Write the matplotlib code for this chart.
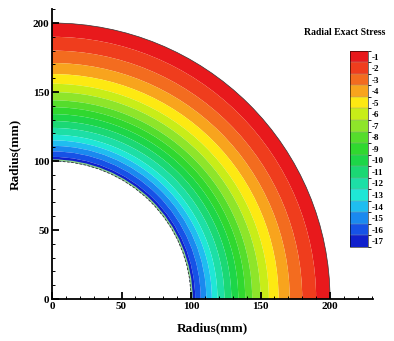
import matplotlib.pyplot as plt
from matplotlib.colors import BoundaryNorm, ListedColormap
from matplotlib.cm import ScalarMappable
from matplotlib.patches import Wedge, Arc
from matplotlib.ticker import MultipleLocator

# contour levels (MPa), outer ring first
LEVELS = [-1, -2, -3, -4, -5, -6, -7, -8, -9, -10, -11, -12, -13, -14, -15, -16, -17]
BAND_COLORS = [
    "#e8191c", "#ef3d1d", "#f36c1f", "#f8a41d", "#fde912", "#c8ed18",
    "#8ee52a", "#55dd2c", "#30d82f", "#1dd648", "#1bd874", "#1ddfa6",
    "#1fe7d6", "#1fbdf0", "#1a89ef", "#1652e6", "#1020cc",
]
# ring radii (mm), outer edge of each band followed by the inner hole radius
BAND_EDGES = [200, 190, 180, 171, 163, 156, 150, 144, 139, 134, 129, 124,
              119, 115, 111, 107, 103, 100]
INNER_R = 100
OUTER_R = 200

plt.rcParams.update({
    "font.family": "Liberation Serif",
    "font.weight": "bold",
    "axes.labelweight": "bold",
})

fig = plt.figure(figsize=(3.94, 3.41), dpi=100)
ax = fig.add_axes([0.132, 0.123, 0.815, 0.850])

for color, r_out, r_in in zip(BAND_COLORS, BAND_EDGES[:-1], BAND_EDGES[1:]):
    ax.add_patch(Wedge((0, 0), r_out, 0, 90, width=r_out - r_in,
                       facecolor=color, edgecolor="none", antialiased=True))

# thin interpolation fringe and boundary lines
ax.add_patch(Wedge((0, 0), INNER_R + 1.2, 0, 90, width=1.2,
                   facecolor="#8fd68a", edgecolor="none"))
ax.add_patch(Arc((0, 0), 2 * INNER_R, 2 * INNER_R, theta1=0, theta2=90,
                 color="#333333", lw=0.6, ls=(0, (3, 2))))
ax.add_patch(Arc((0, 0), 2 * OUTER_R, 2 * OUTER_R, theta1=0, theta2=90,
                 color="#333333", lw=0.5))

ax.set_xlim(0, 231)
ax.set_ylim(0, 210)
for side in ("top", "right"):
    ax.spines[side].set_visible(False)
for side in ("left", "bottom"):
    ax.spines[side].set_linewidth(1.3)

ax.xaxis.set_major_locator(MultipleLocator(50))
ax.xaxis.set_minor_locator(MultipleLocator(10))
ax.yaxis.set_major_locator(MultipleLocator(50))
ax.yaxis.set_minor_locator(MultipleLocator(10))
ax.tick_params(which="major", direction="in", length=5, width=1.3, labelsize=8, pad=2)
ax.tick_params(which="minor", direction="in", length=2.5, width=0.7)
for lbl in ax.get_xticklabels() + ax.get_yticklabels():
    lbl.set_fontweight("bold")

ax.set_xlabel("Radius(mm)", fontsize=9.5, labelpad=8)
ax.set_ylabel("Radius(mm)", fontsize=9.5, labelpad=8)

# contour legend
bounds = sorted([lv + 0.5 for lv in LEVELS] + [LEVELS[-1] - 0.5])
cmap = ListedColormap(BAND_COLORS[::-1])
norm = BoundaryNorm(bounds, cmap.N)
cax = fig.add_axes([0.888, 0.276, 0.046, 0.575])
cb = fig.colorbar(ScalarMappable(norm=norm, cmap=cmap), cax=cax,
                  ticks=sorted(LEVELS), drawedges=True)
cb.dividers.set_color("#999999")
cb.dividers.set_linewidth(0.3)
cb.outline.set_linewidth(0.4)
cb.ax.set_yticklabels([str(v) for v in sorted(LEVELS)])
cb.ax.tick_params(length=0, labelsize=6.5, pad=2.5)
for lbl in cb.ax.get_yticklabels():
    lbl.set_fontweight("bold")
fig.text(0.875, 0.905, "Radial Exact Stress", ha="center", va="center",
         fontsize=7, fontweight="bold")

fig.savefig("out.png", dpi=100)
